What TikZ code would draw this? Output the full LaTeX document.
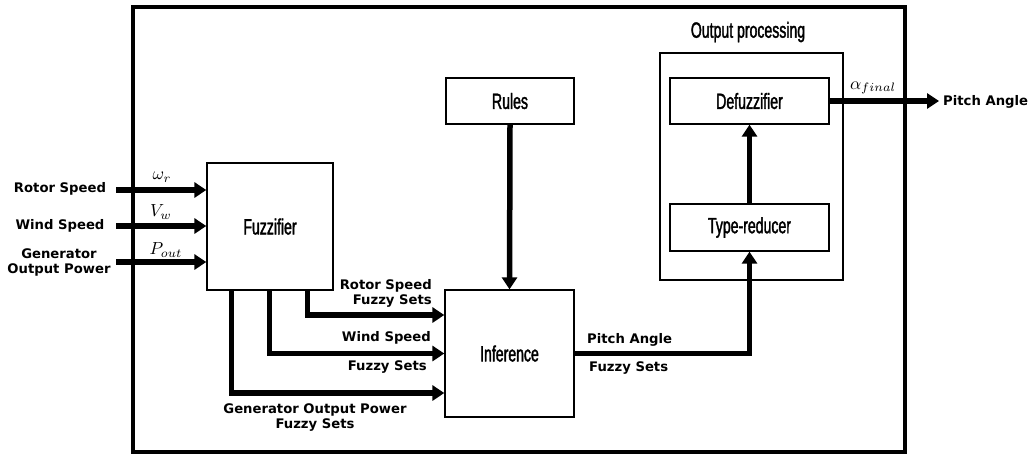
\documentclass[tikz,border=0pt]{standalone}
\usepackage{fontspec}
\setmainfont{DejaVu Sans}
\newfontfamily\condfont[FakeStretch=0.64,FakeBold=1.6]{Liberation Sans}
\usetikzlibrary{arrows.meta,calc}
\newcommand{\mylargemath}[1]{\scalebox{1.75}{$#1$}}
\begin{document}
\begin{tikzpicture}[x=1pt,y=-1pt,
  blk/.style={draw,line width=1.3pt,rectangle,inner sep=0pt,font=\condfont\fontsize{22}{24}\selectfont},
  arr/.style={line width=5.5pt,-{Triangle[length=12pt,width=15pt]}},
  lbl/.style={font=\bfseries\fontsize{13.2}{15}\selectfont,align=center,inner sep=0pt},
  mth/.style={inner sep=0pt}]
\useasboundingbox (0,0) rectangle (1032,458);
\draw[line width=4pt] (133,7) rectangle (905,452);
% blocks
\node[blk,minimum width=126pt,minimum height=127pt] (fz) at (270,226.5) {Fuzzifier};
\node[blk,minimum width=129pt,minimum height=127pt] (inf) at (509.5,353.5) {Inference};
\node[blk,minimum width=128pt,minimum height=46pt] (rules) at (510,101) {Rules};
\node[draw,line width=1.3pt,minimum width=183pt,minimum height=227pt,inner sep=0pt] (op) at (751.5,166.5) {};
\node[font=\condfont\fontsize{22}{24}\selectfont,inner sep=0pt] (optitle) at (748,32) {Output processing};
\node[blk,minimum width=159pt,minimum height=46pt] (df) at (749.5,101) {Defuzzifier};
\node[blk,minimum width=159pt,minimum height=47pt] (tr) at (749.5,227.5) {Type-reducer};
% inputs
\coordinate (in1) at (116,190);
\coordinate (in2) at (116,226);
\coordinate (in3) at (116,262);
\node[lbl] (l1) at (60,189) {Rotor Speed};
\node[lbl] (l2) at (60,226) {Wind Speed};
\node[lbl] (l3) at (59,262) {Generator\\Output Power};
\draw[arr] (in1) -- (in1 -| fz.west);
\draw[arr] (in2) -- (in2 -| fz.west);
\draw[arr] (in3) -- (in3 -| fz.west);
\node[mth] (m1) at (162,177) {\mylargemath{\omega_r}};
\node[mth] (m2) at (161,212) {\mylargemath{V_w}};
\node[mth] (m3) at (166,250) {\mylargemath{P_{out}}};
% fuzzifier outputs
\draw[arr] ([xshift=101pt]fz.south west) |- ([yshift=38.5pt]inf.west);
\draw[arr] ([xshift=63pt]fz.south west) |- ([yshift=0pt]inf.west);
\draw[arr] ([xshift=25pt]fz.south west) |- ([yshift=-39.5pt]inf.west);
\node[lbl,align=right,anchor=east] (f1) at (432,293) {Rotor Speed\\Fuzzy Sets};
\node[lbl,anchor=east] (f2a) at (431,338) {Wind Speed};
\node[lbl,anchor=east] (f2b) at (427,367) {Fuzzy Sets};
\node[lbl] (f3) at (315,418) {Generator Output Power\\Fuzzy Sets};
% rules
\draw[arr] (rules.south) -- (inf.north);
% pitch angle fuzzy sets
\draw[arr] (inf.east) -| (tr.south);
\node[lbl,anchor=west] (p1) at (587,340) {Pitch Angle};
\node[lbl,anchor=west] (p2) at (589,368) {Fuzzy Sets};
% type reducer to defuzzifier
\draw[arr] (tr.north) -- (df.south);
% output
\coordinate (outend) at (939,101);
\draw[arr] (df.east) -- (outend);
\node[lbl,anchor=west] (pa) at (943,102) {Pitch Angle};
\node[mth] (af) at (873,88) {\mylargemath{\alpha_{final}}};
\end{tikzpicture}
\end{document}
